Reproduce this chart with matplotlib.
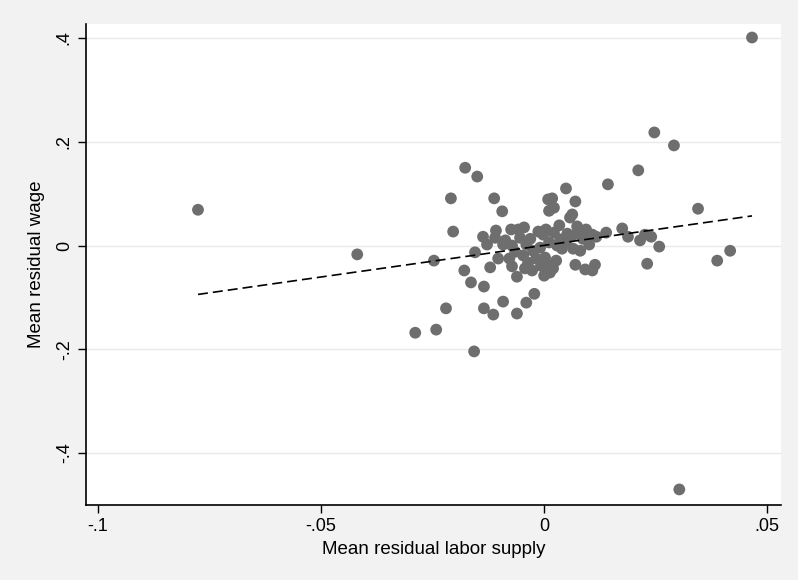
import numpy as np
import matplotlib.pyplot as plt

# Mean residual labor supply (x) and mean residual wage (y) by cell
labor = [-0.0776, -0.0419, 0.0466, 0.0303, -0.0289, -0.0242, -0.0247, -0.0220, -0.0157, -0.0209,
         -0.0204, -0.0177, -0.0150, -0.0179, -0.0164, -0.0155, -0.0135, -0.0135, -0.0137, -0.0121,
         -0.0128, -0.0112, -0.0114, -0.0094, -0.0108, -0.0110, -0.0103, -0.0092, -0.0078, -0.0087,
         -0.0074, -0.0072, -0.0065, -0.0061, -0.0061, -0.0054, -0.0047, -0.0045, -0.0040, -0.0040,
         -0.0036, -0.0031, -0.0027, -0.0022, -0.0018, -0.0013, -0.0009, -0.0007, -0.0002, 0.0000,
         0.0002, 0.0004, 0.0009, 0.0009, 0.0013, 0.0011, 0.0018, 0.0022, 0.0022, 0.0027,
         0.0020, 0.0036, 0.0040, 0.0049, 0.0052, 0.0058, 0.0063, 0.0070, 0.0063, 0.0065,
         0.0070, 0.0076, 0.0081, 0.0087, 0.0092, 0.0094, 0.0108, 0.0108, 0.0114, 0.0139,
         0.0143, 0.0175, 0.0188, 0.0211, 0.0215, 0.0226, 0.0231, 0.0247, 0.0240, 0.0258,
         0.0291, 0.0345, 0.0388, 0.0417, -0.0058, -0.0025, 0.0011, 0.0029, 0.0049, 0.0074,
         0.0101, -0.0043, -0.0072, -0.0092, 0.0034, 0.0117]
wage = [0.069, -0.017, 0.401, -0.470, -0.168, -0.162, -0.029, -0.121, -0.204, 0.091,
        0.027, 0.150, 0.133, -0.048, -0.071, -0.013, -0.079, -0.121, 0.017, -0.042,
        0.002, 0.091, -0.133, 0.066, 0.029, 0.015, -0.025, -0.108, -0.025, 0.010,
        0.031, 0.000, -0.012, -0.060, -0.131, 0.015, -0.019, 0.035, 0.002, -0.110,
        -0.033, 0.013, -0.048, -0.093, -0.025, 0.027, -0.004, -0.039, 0.021, -0.058,
        -0.023, 0.031, -0.037, 0.089, -0.052, 0.067, 0.091, 0.025, 0.073, -0.029,
        -0.044, 0.012, -0.006, 0.110, 0.023, 0.054, 0.060, 0.085, 0.019, -0.006,
        -0.037, 0.025, -0.010, 0.013, -0.046, 0.031, -0.048, 0.021, -0.037, 0.025,
        0.118, 0.033, 0.017, 0.145, 0.010, 0.021, -0.035, 0.218, 0.017, -0.002,
        0.193, 0.071, -0.029, -0.010, 0.031, -0.010, 0.006, 0.000, 0.006, 0.037,
        0.002, -0.044, -0.040, 0.002, 0.039, 0.017]

x = np.array(labor)
y = np.array(wage)

# Linear fit across the observed range
slope, intercept = np.polyfit(x, y, 1)
xfit = np.array([x.min(), x.max()])
yfit = intercept + slope * xfit

plt.rcParams['font.family'] = ['Liberation Sans Narrow', 'Liberation Sans', 'DejaVu Sans']

fig = plt.figure(figsize=(7.98, 5.80), dpi=100, facecolor='#f2f2f2')
ax = fig.add_axes([0.1078, 0.1293, 0.8709, 0.8293])
ax.set_facecolor('white')

ax.scatter(x, y, s=72, color='#6e6e6e', edgecolors='none', zorder=3)
ax.plot(xfit, yfit, color='black', linestyle=(0, (6, 3)), linewidth=1.2, zorder=4)

ax.set_xlim(-0.1027, 0.0531)
ax.set_ylim(-0.50, 0.427)
ax.set_xticks([-0.1, -0.05, 0, 0.05])
ax.set_xticklabels(['-.1', '-.05', '0', '.05'])
ax.set_yticks([-0.4, -0.2, 0, 0.2, 0.4])
ax.set_yticklabels(['-.4', '-.2', '0', '.2', '.4'], rotation=90, va='center')
ax.tick_params(labelsize=13, length=6, width=1, color='black')

ax.grid(axis='y', color='#eaeaea', linewidth=1)
ax.set_axisbelow(True)
for side in ['top', 'right']:
    ax.spines[side].set_visible(False)
for side in ['left', 'bottom']:
    ax.spines[side].set_linewidth(1.2)

ax.set_xlabel('Mean residual labor supply', fontsize=13.5, labelpad=4)
ax.set_ylabel('Mean residual wage', fontsize=13.5, labelpad=8)

fig.savefig('out.png', dpi=100, facecolor=fig.get_facecolor())
